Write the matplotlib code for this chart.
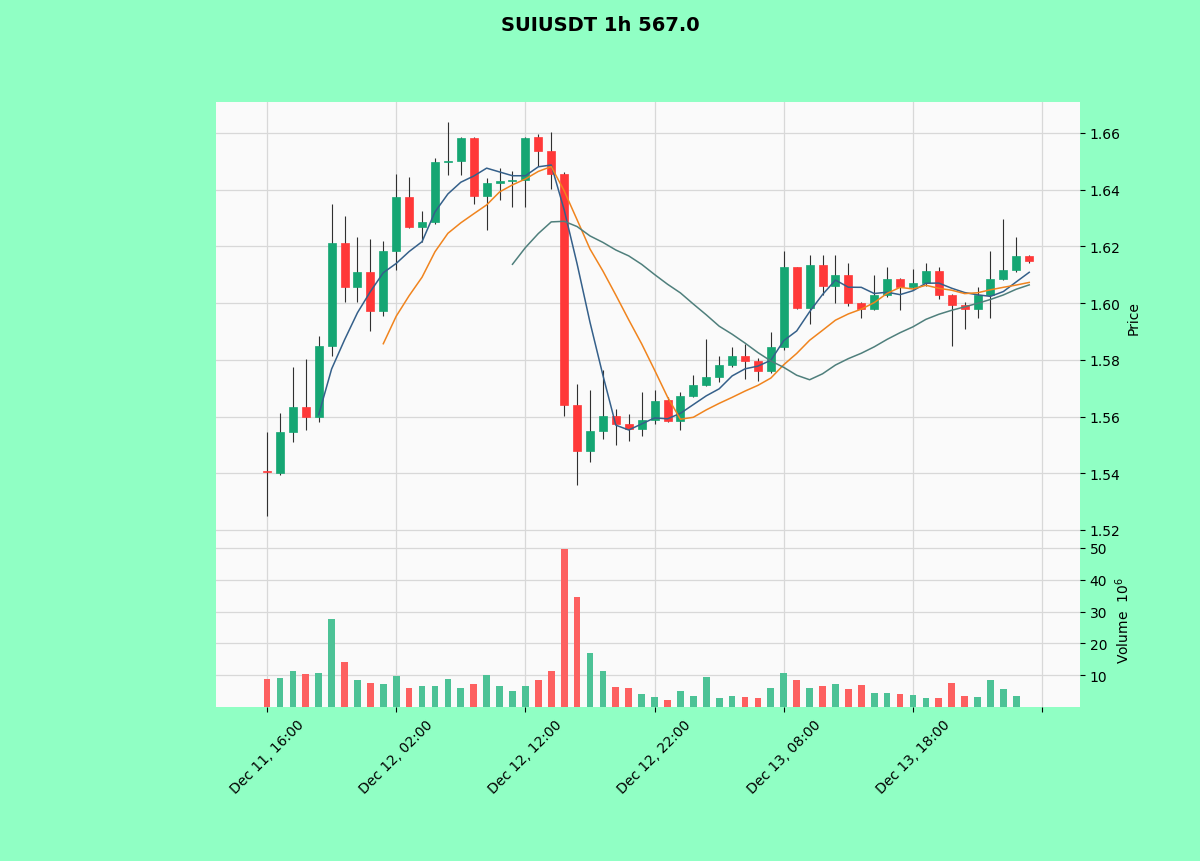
import matplotlib
matplotlib.use("Agg")
import matplotlib.pyplot as plt
import numpy as np
import pandas as pd

# hourly candles, SUIUSDT, starting Dec 11 16:00
start = "2025-12-11 16:00"
opens = [1.5408, 1.5400, 1.5545, 1.5633, 1.5600, 1.5850, 1.6211, 1.6058, 1.6111, 1.5973,
         1.6183, 1.6374, 1.6268, 1.6285, 1.6497, 1.6500, 1.6581, 1.6377, 1.6424, 1.6430,
         1.6433, 1.6585, 1.6538, 1.6455, 1.5642, 1.5480, 1.5550, 1.5601, 1.5575, 1.5557,
         1.5587, 1.5660, 1.5585, 1.5672, 1.5711, 1.5741, 1.5780, 1.5812, 1.5797, 1.5759,
         1.5844, 1.6127, 1.5982, 1.6136, 1.6062, 1.6099, 1.6001, 1.5980, 1.6027, 1.6085,
         1.6056, 1.6070, 1.6112, 1.6030, 1.5994, 1.5980, 1.6030, 1.6085, 1.6115, 1.6165]
highs = [1.5546, 1.5613, 1.5774, 1.5803, 1.5885, 1.6350, 1.6307, 1.6232, 1.6226, 1.6220,
         1.6455, 1.6444, 1.6326, 1.6510, 1.6638, 1.6585, 1.6585, 1.6440, 1.6475, 1.6467,
         1.6585, 1.6597, 1.6602, 1.6461, 1.5715, 1.5692, 1.5765, 1.5625, 1.5610, 1.5687,
         1.5692, 1.5668, 1.5688, 1.5747, 1.5874, 1.5815, 1.5844, 1.5856, 1.5805, 1.5898,
         1.6185, 1.6127, 1.6168, 1.6168, 1.6168, 1.6142, 1.6005, 1.6099, 1.6127, 1.6090,
         1.6120, 1.6141, 1.6127, 1.6032, 1.6005, 1.6056, 1.6185, 1.6295, 1.6233, 1.6168]
lows = [1.5250, 1.5395, 1.5510, 1.5551, 1.5580, 1.5815, 1.6003, 1.6003, 1.5900, 1.5956,
        1.6115, 1.6265, 1.6215, 1.6280, 1.6450, 1.6450, 1.6350, 1.6256, 1.6362, 1.6340,
        1.6340, 1.6485, 1.6403, 1.5603, 1.5357, 1.5439, 1.5521, 1.5500, 1.5515, 1.5530,
        1.5575, 1.5580, 1.5551, 1.5670, 1.5708, 1.5721, 1.5775, 1.5733, 1.5727, 1.5755,
        1.5833, 1.5980, 1.5927, 1.6027, 1.6001, 1.5991, 1.5947, 1.5975, 1.6022, 1.5974,
        1.6045, 1.6062, 1.6015, 1.5850, 1.5909, 1.5947, 1.5947, 1.6082, 1.6110, 1.6142]
closes = [1.5404, 1.5545, 1.5633, 1.5600, 1.5850, 1.6211, 1.6058, 1.6111, 1.5973, 1.6183,
          1.6374, 1.6268, 1.6285, 1.6497, 1.6500, 1.6581, 1.6377, 1.6424, 1.6430, 1.6433,
          1.6581, 1.6535, 1.6455, 1.5642, 1.5480, 1.5550, 1.5601, 1.5575, 1.5557, 1.5587,
          1.5656, 1.5585, 1.5672, 1.5711, 1.5741, 1.5780, 1.5812, 1.5797, 1.5759, 1.5844,
          1.6127, 1.5982, 1.6136, 1.6062, 1.6099, 1.6001, 1.5980, 1.6027, 1.6085, 1.6056,
          1.6070, 1.6112, 1.6030, 1.5994, 1.5980, 1.6030, 1.6085, 1.6115, 1.6165, 1.6148]
# volume in millions (last candle just opened, almost nothing traded yet)
volumes = [8.8, 9.1, 11.4, 10.5, 10.6, 27.6, 14.0, 8.4, 7.4, 7.1,
           9.7, 6.0, 6.5, 6.5, 8.7, 6.0, 7.1, 9.9, 6.5, 5.0,
           6.6, 8.4, 11.3, 49.6, 34.6, 17.1, 11.4, 6.3, 6.0, 4.0,
           3.1, 2.3, 4.9, 3.4, 9.5, 2.9, 3.4, 3.1, 2.8, 6.0,
           10.8, 8.4, 6.0, 6.5, 7.1, 5.6, 6.8, 4.5, 4.4, 4.0,
           3.9, 2.8, 2.8, 7.6, 3.4, 3.1, 8.4, 5.6, 3.5, 0.05]
mav_periods = [5, 10, 20]
mav_colors = ["#35608a", "#f0841e", "#4f7f7c"]

up_col, down_col = "#15a673", "#ff3838"
vol_up, vol_down = "#4cc296", "#fd6060"
bg = "#90ffc4"

df = pd.DataFrame({"Open": opens, "High": highs, "Low": lows, "Close": closes, "Volume": volumes},
                  index=pd.date_range(start, periods=len(closes), freq="h"))
n = len(df)
x = np.arange(n)
rising = df["Close"] >= df["Open"]

fig = plt.figure(figsize=(12, 8.62), dpi=100, facecolor=bg)
ax = fig.add_axes([0.18, 0.3817, 0.72, 0.4988])
axv = fig.add_axes([0.18, 0.1787, 0.72, 0.2030], sharex=ax)

for a in (ax, axv):
    a.set_facecolor("#fafafa")
    a.grid(True, color="#d8d8d8", linewidth=0.9)
    a.set_axisbelow(True)
    for s in a.spines.values():
        s.set_visible(False)
    a.yaxis.tick_right()
    a.yaxis.set_label_position("right")

# candles
body_w = 0.62
colors = np.where(rising, up_col, down_col)
ax.vlines(x, df["Low"], df["High"], color="#303030", linewidth=0.8, zorder=2)
bottoms = np.minimum(df["Open"], df["Close"])
heights = np.maximum((df["Close"] - df["Open"]).abs(), 0.0004)
ax.bar(x, heights, body_w, bottom=bottoms, color=colors, edgecolor=colors, linewidth=0.5, zorder=3)

# moving averages
for p, c in zip(mav_periods, mav_colors):
    ax.plot(x, df["Close"].rolling(p).mean(), color=c, linewidth=1.1, zorder=4)

ax.set_ylim(1.5193, 1.6709)
ax.set_yticks(np.arange(1.52, 1.661, 0.02))
ax.set_yticklabels([f"{v:.2f}" for v in np.arange(1.52, 1.661, 0.02)])
ax.set_ylabel("Price", fontsize=10)
ax.tick_params(axis="x", labelbottom=False, length=0)

# volume
axv.bar(x, df["Volume"], 0.52, color=np.where(rising, vol_up, vol_down), zorder=3)
axv.set_ylim(0, 55)
axv.set_yticks([10, 20, 30, 40, 50])
axv.set_ylabel("Volume  $10^{6}$", fontsize=10)

ticks = list(range(0, n + 1, 10))
labels = [df.index[i].strftime("%b %d, %H:%M") if i < n else "" for i in ticks]
axv.set_xticks(ticks)
axv.set_xticklabels(labels, rotation=45)
axv.set_xlim(-3.95, 62.93)

fig.suptitle("SUIUSDT 1h 567.0", fontsize=14, fontweight="bold", y=0.982)
fig.savefig("out.png", dpi=100, facecolor=bg)
